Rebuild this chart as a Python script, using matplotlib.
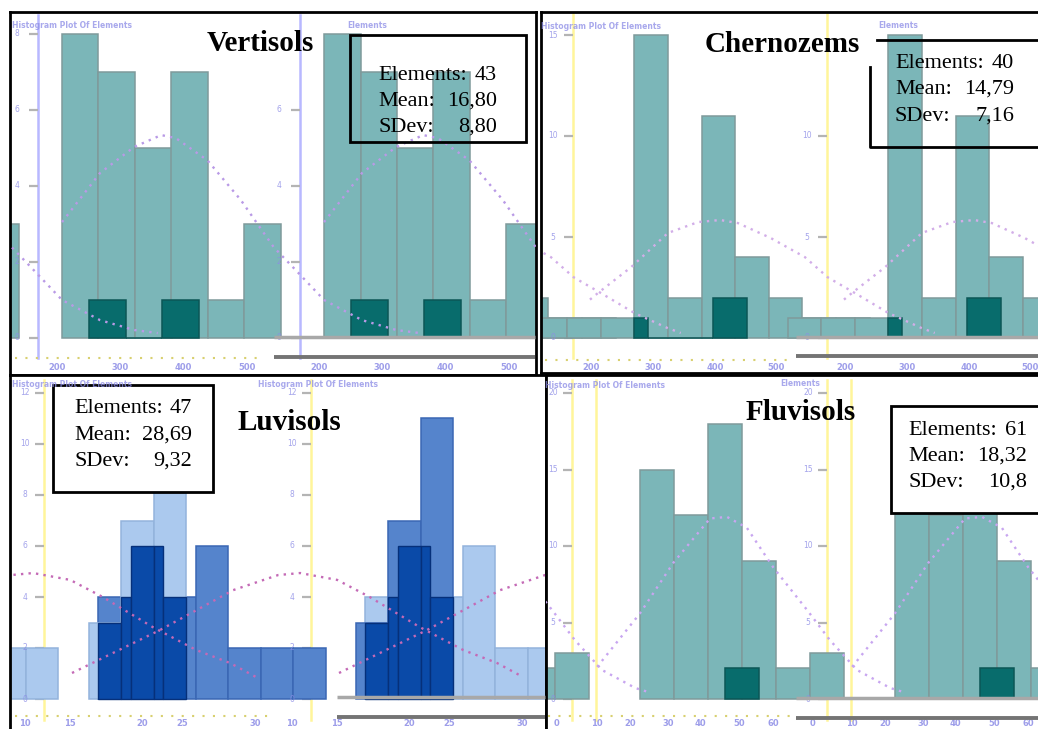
import numpy as np
import matplotlib.pyplot as plt
from matplotlib.patches import Rectangle

W, H = 1038, 729

# ---- data ----
stat_names = ['Elements:', 'Mean:', 'SDev:']

# Vertisols
vert_edges = [5, 10, 15, 20, 25, 30, 35]
vert_counts = [8, 7, 5, 7, 1, 3]
vert_dark_edges = [8.75, 13.75, 18.75, 23.75]
vert_dark_counts = [1, 0, 1]
vert_curve_x = [5, 10.2, 14.9, 18.6, 20.6, 24.9, 29.5, 34.0, 36.6, 40.9, 46.1, 50.8, 54.0]
vert_curve_y = [3.05, 4.34, 5.03, 5.34, 5.26, 4.68, 3.63, 2.39, 1.87, 1.0, 0.47, 0.21, 0.13]
vert_yticks = [0, 2, 4, 6, 8]
vert_xlabels = ['200', '300', '400', '500']
vert_stats = ['43', '16,80', '8,80']

# Chernozems
cher_edges = [0, 5, 10, 15, 20, 25, 30, 35, 40, 45, 50]
cher_counts = [1, 1, 1, 15, 2, 11, 4, 2, 1, 1]
cher_dark_edges = [15, 17, 26.75, 31.75]
cher_dark_counts = [1, 0, 2]
cher_curve_x = [8.4, 9.6, 14.5, 20.0, 24.5, 27.8, 30.4, 35.3, 40.4, 43.8, 47.8, 52.8, 57.7, 59.7]
cher_curve_y = [1.9, 2.23, 3.5, 5.2, 5.74, 5.84, 5.69, 4.95, 4.0, 3.0, 2.23, 1.24, 0.5, 0.25]
cher_yticks = [0, 5, 10, 15]
cher_xlabels = ['200', '300', '400', '500']
cher_stats = ['40', '14,79', '7,16']

# Luvisols (two overlaid histograms)
luv_long_edges = [10, 15, 20, 25, 30, 35, 40, 45]
luv_long_counts = [4, 6, 4, 6, 2, 2, 2]
luv_short_edges = [8.6, 13.6, 18.6, 23.6]
luv_short_counts = [3, 7, 11]
luv_curve_x = [6.0, 19.5, 30.8, 37.7, 41.1, 46.8, 51.8, 59.5, 66.2, 71.4, 75.4]
luv_curve_y = [1.02, 2.7, 4.27, 4.86, 4.94, 4.67, 4.0, 2.82, 1.92, 1.41, 0.86]
luv_yticks = [0, 2, 4, 6, 8, 10, 12]
luv_xlabels = ['10', '15', '20', '25', '30']
luv_stats = ['47', '28,69', '9,32']

# Fluvisols
fluv_edges = [5, 10, 15, 20, 25, 30, 35]
fluv_counts = [15, 12, 18, 9, 2, 3]
fluv_dark_edges = [17.5, 22.5]
fluv_dark_counts = [2]
fluv_curve_x = [-1.3, 5, 9.9, 15.3, 17.8, 20.7, 24.6, 29.6, 32.9, 36.9, 41.8, 43.7]
fluv_curve_y = [2.1, 5.6, 8.9, 11.8, 11.9, 11.2, 8.6, 5.8, 3.86, 1.9, 0.72, 0.46]
fluv_yticks = [0, 5, 10, 15, 20]
fluv_xlabels = ['0', '10', '20', '30', '40', '50', '60']
fluv_stats = ['61', '18,32', '10,8']

teal = '#7bb6b8'
teal_edge = '#7f9a9b'
dark_teal = '#086c6c'
light_blue = '#abc9ee'
mid_blue = '#5584cc'
navy = '#0a4aa8'
faint = '#8c8ce6'

fig = plt.figure(figsize=(W / 100, H / 100), dpi=100)


def quadrant(rect, anchor, base, unit, period):
    L, T, R, B = rect
    a, pa, s = anchor
    ax = fig.add_axes([L / W, 1 - B / H, (R - L) / W, (B - T) / H])
    ax.set_xlim(a + (L - pa) / s, a + (R - pa) / s)
    ax.set_ylim((base - B) / unit, (base - T) / unit)
    ax.set_xticks([])
    ax.set_yticks([])
    for sp in ax.spines.values():
        sp.set_linewidth(2)
    px = lambda p: a + (p - pa) / s
    py = lambda p: (base - p) / unit
    return ax, px, py, period / s, 1 / s


def hist(ax, edges, counts, off, color, edge, z=2):
    e = np.array(edges, dtype=float)
    ax.bar(e[:-1] + off, counts, width=np.diff(e), align='edge', color=color,
           edgecolor=edge, linewidth=1.1, zorder=z)


def yaxis(ax, x, ytop, ybot, color, ticks, unitpx, lab_dx=-20):
    ax.plot([x, x], [ytop, ybot], color=color, lw=1.8, zorder=1)
    ax.hlines(ticks, x - 9 * unitpx, x, color='#b4b4b4', lw=1.6, zorder=1)
    for t in ticks:
        ax.text(x + lab_dx * unitpx, t, str(t), fontsize=5.5, color=faint,
                ha='center', va='center', alpha=0.8, clip_on=True)


def xlabels(ax, xs, y, labels):
    for x, lab in zip(xs, labels):
        ax.text(x, y, lab, fontsize=6, color=faint, ha='center', va='center',
                alpha=0.85, fontweight='bold', clip_on=True)


def curve(ax, xs, ys, off, color):
    ax.plot(np.array(xs) + off, ys, linestyle=(0, (1, 2.2)), color=color, lw=1.7, zorder=4)


# ---------- Vertisols ----------
ax, px, py, shift, upx = quadrant((10, 12, 536, 375), (5, 62, 7.3), 338, 38, 262)
for k in (-1, 0, 1):
    off = k * shift
    hist(ax, vert_edges, vert_counts, off, teal, teal_edge)
    hist(ax, vert_dark_edges, vert_dark_counts, off, dark_teal, '#0b5656', z=3)
    curve(ax, vert_curve_x, vert_curve_y, off, '#b99ae6')
yaxis(ax, px(38), py(15), py(358), '#b8b8ff', vert_yticks, upx, -21)
yaxis(ax, px(38) + shift, py(15), py(358), '#b8b8ff', vert_yticks[:-1], upx, -21)
for k in (0, 1):
    xlabels(ax, [px(x) + k * shift for x in (57, 120, 183, 247)], py(367), vert_xlabels)

# ---------- Chernozems ----------
ax, px, py, shift, upx = quadrant((541, 12, 1046, 373), (0, 533.5, 6.72), 338, 20.2, 254)
for k in (-1, 0, 1):
    off = k * shift
    hist(ax, cher_edges, cher_counts, off, teal, teal_edge)
    hist(ax, cher_dark_edges, cher_dark_counts, off, dark_teal, '#0b5656', z=3)
    curve(ax, cher_curve_x, cher_curve_y, off, '#d2aee8')
yaxis(ax, px(573), py(14), py(358), '#fff59a', cher_yticks, upx, -20)
yaxis(ax, px(573) + shift, py(14), py(358), '#fff59a', cher_yticks[:-1], upx, -20)
for k in (0, 1):
    xlabels(ax, [px(x) + k * shift for x in (591, 653, 715, 776)], py(367), cher_xlabels)

# ---------- Luvisols ----------
ax, px, py, shift, upx = quadrant((10, 375, 546, 736), (10, 98, 6.5), 699, 25.5, 267)


def seg_height(edges, counts, m):
    for lo, hi, c in zip(edges[:-1], edges[1:], counts):
        if lo <= m < hi:
            return c
    return 0


for k in (-1, 0, 1):
    off = k * shift
    long_col, short_col = (mid_blue, light_blue) if k == 0 else (light_blue, mid_blue)
    edge_of = {mid_blue: '#3a67b4', light_blue: '#93b3dc'}
    hist(ax, luv_long_edges, luv_long_counts, off, long_col, edge_of[long_col])
    hist(ax, luv_short_edges, luv_short_counts, off, short_col, edge_of[short_col])
    # where both histograms overlap the picture shows a deep blue
    pts = sorted(set(luv_long_edges) | set(luv_short_edges))
    lefts, widths, hs = [], [], []
    for x0, x1 in zip(pts[:-1], pts[1:]):
        m = (x0 + x1) / 2
        h = min(seg_height(luv_long_edges, luv_long_counts, m),
                seg_height(luv_short_edges, luv_short_counts, m))
        if h > 0:
            lefts.append(x0 + off)
            widths.append(x1 - x0)
            hs.append(h)
    ax.bar(lefts, hs, width=widths, align='edge', color=navy, edgecolor='#06307a',
           linewidth=1.0, zorder=3)
    curve(ax, luv_curve_x, luv_curve_y, off, '#c46ab6')
for k in (0, 1):
    off = k * shift
    yaxis(ax, px(44) + off, py(380), py(720), '#fff59a', luv_yticks, upx, -19)
    xlabels(ax, [px(x) + off for x in (25, 70, 142, 182, 255)], py(723), luv_xlabels)

# ---------- Fluvisols ----------
ax, px, py, shift, upx = quadrant((546, 375, 1046, 736), (5, 640, 6.8), 699, 15.3, 255)
for k in (-1, 0, 1):
    off = k * shift
    hist(ax, fluv_edges, fluv_counts, off, teal, teal_edge)
    hist(ax, fluv_dark_edges, fluv_dark_counts, off, dark_teal, '#0b5656', z=3)
    curve(ax, fluv_curve_x, fluv_curve_y, off, '#c8a6f0')
for k in (0, 1):
    off = k * shift
    ax.plot([px(596) + off] * 2, [py(380), py(720)], color='#fff59a', lw=1.8, zorder=1)
    yaxis(ax, px(572) + off, py(380), py(720), '#fff59a', fluv_yticks, upx, -19)
    xlabels(ax, [px(x) + off for x in (557, 597, 630, 668, 700, 739, 773)], py(724), fluv_xlabels)

# ---------- overlay: titles, stats boxes, leftover axis strokes ----------
ov = fig.add_axes([0, 0, 1, 1], zorder=10)
ov.set_xlim(0, W)
ov.set_ylim(H, 0)
ov.axis('off')
ov.patch.set_alpha(0)

serif = 'Liberation Serif'
for name, x, y in [('Vertisols', 260, 51), ('Chernozems', 782, 52),
                   ('Luvisols', 289, 430), ('Fluvisols', 801, 420)]:
    ov.text(x, y, name, fontsize=21, fontweight='bold', family=serif,
            ha='center', va='baseline')

# stats boxes
ov.add_patch(Rectangle((350, 35), 176, 107, fill=False, lw=2, ec='black'))
ov.plot([877, 1038], [40, 40], color='black', lw=2)
ov.plot([870, 870, 1038], [67, 147, 147], color='black', lw=2)
ov.add_patch(Rectangle((53, 385), 160, 107, fc='white', lw=2, ec='black'))
ov.add_patch(Rectangle((891, 406), 160, 107, fc='white', lw=2, ec='black'))

for stats, xl, xr, ys in [(vert_stats, 378, 497, (80, 106, 132)),
                          (cher_stats, 895, 1014, (68, 94, 121)),
                          (luv_stats, 74, 192, (413, 440, 466)),
                          (fluv_stats, 908, 1027, (435, 461, 487))]:
    for nm, val, y in zip(stat_names, stats, ys):
        ov.text(xl, y, nm, fontsize=16, family=serif, ha='left', va='baseline')
        ov.text(xr, y, val, fontsize=16, family=serif, ha='right', va='baseline')

# x-axis strokes of the right-hand copies
for x0, x1, y0, y1 in [(274, 535, 337, 357), (796, 1038, 337, 356),
                       (337, 545, 697, 717), (796, 1038, 698, 718)]:
    ov.plot([x0, x1], [y0, y0], color='#a8a8a8', lw=2.5, solid_capstyle='butt')
    ov.plot([x0, x1], [y1, y1], color='#747474', lw=2.8, solid_capstyle='butt')
for x0, x1, y in [(15, 265, 358), (545, 790, 360), (15, 275, 716), (548, 790, 716)]:
    ov.plot([x0, x1], [y, y], color='#d8d070', lw=1.5, linestyle=(0, (1, 4)))

# faint header captions
for x, y, s in [(12, 25, 'Histogram Plot Of Elements'), (347, 25, 'Elements'),
                (541, 26, 'Histogram Plot Of Elements'), (878, 25, 'Elements'),
                (12, 384, 'Histogram Plot Of Elements'), (258, 384, 'Histogram Plot Of Elements'),
                (545, 385, 'Histogram Plot Of Elements'), (780, 383, 'Elements')]:
    ov.text(x, y, s, fontsize=5.5, color=faint, alpha=0.75, ha='left', va='center',
            fontweight='bold')

fig.savefig('out.png', dpi=100)
